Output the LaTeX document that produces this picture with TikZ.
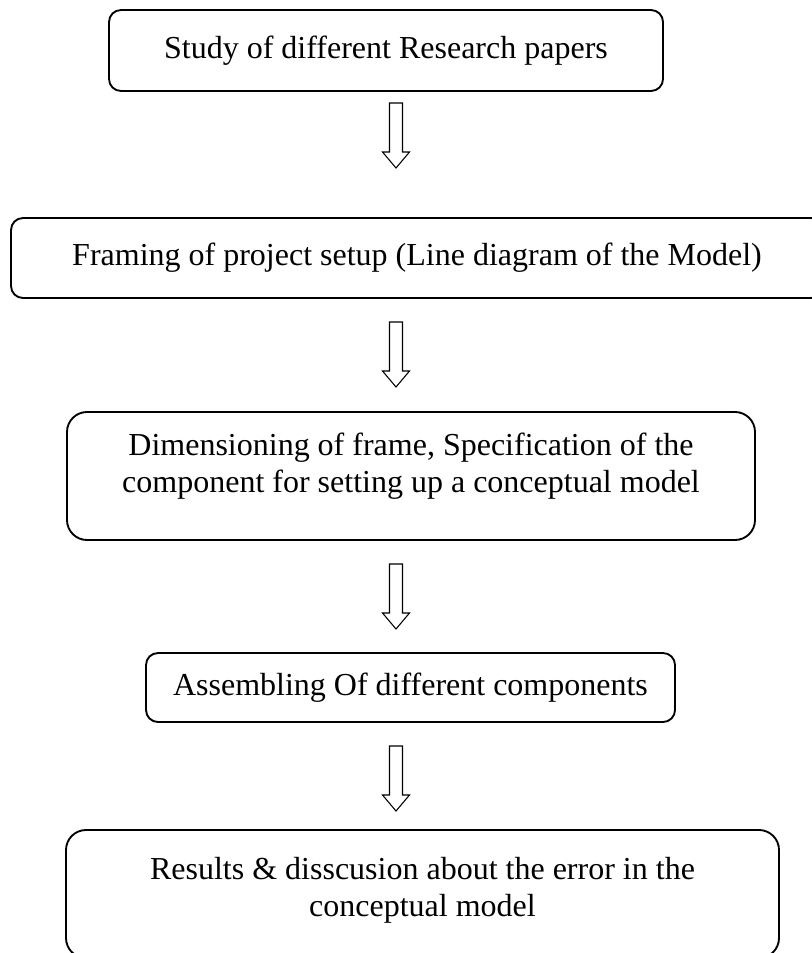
\documentclass[tikz,border=0pt]{standalone}
\usepackage{fontspec}
\setmainfont{Liberation Serif}
\usetikzlibrary{calc}

\begin{document}
\begin{tikzpicture}[x=0.75pt, y=-0.75pt,
  boite/.style={draw, line width=1.4pt, rounded corners=9pt, align=center,
    inner sep=0pt, outer sep=0pt, font=\fontsize{24}{27.75}\selectfont},
  fleche/.pic={\draw[line width=0.8pt, line join=miter] (-6.5,0) -- (-6.5,49)
    -- (-13.5,49) -- (0,65) -- (13.5,49) -- (6.5,49) -- (6.5,0) -- cycle;}]
  \useasboundingbox (0,0) rectangle (811,953);

  % Etapes de la démarche
  \node[boite, minimum width=415.5pt, minimum height=60.75pt] (etude) at (386,50.5)
    {Study of different Research papers};
  \node[boite, minimum width=609pt, minimum height=60pt] (cadrage) at (417,258)
    {Framing of project setup (Line diagram of the Model)};
  \node[boite, rounded corners=15pt, minimum width=516pt, minimum height=96pt,
    text depth=20pt] (dimension) at (411,476)
    {Dimensioning of frame, Specification of the\\component for setting up a conceptual model};
  \node[boite, minimum width=396.75pt, minimum height=51.75pt] (assemblage) at (410.5,687.5)
    {Assembling Of different components};
  \node[boite, rounded corners=15pt, minimum width=534.75pt, minimum height=96pt,
    text depth=11pt] (resultats) at (422.5,894)
    {Results \& disscusion about the error in the\\conceptual model};

  % Flèches creuses (toutes sur le même axe)
  \coordinate (axe) at (396,0);
  \pic at ($(etude.south -| axe)+(0,12)$) {fleche};
  \foreach \n in {cadrage, dimension, assemblage} {
    \pic at ($(\n.south -| axe)+(0,24)$) {fleche};
  }
\end{tikzpicture}
\end{document}
